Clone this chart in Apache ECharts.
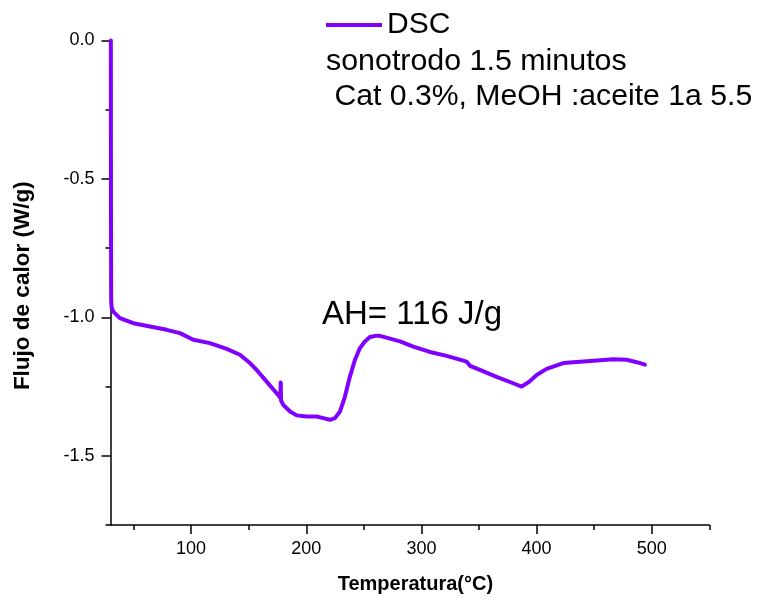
<!DOCTYPE html>
<html>
<head>
<meta charset="utf-8">
<script src="https://cdn.jsdelivr.net/npm/echarts@6/dist/echarts.min.js"></script>
<style>
  html, body { margin: 0; padding: 0; background: #fff; }
  #chart { width: 757px; height: 598px; }
</style>
</head>
<body>
<div id="chart"></div>
<script>
// DSC thermogram: temperature (°C) and heat flow (W/g)
const temperature = [30.3, 30.4, 30.6, 31.0, 32.4, 38.2, 49.8, 64.3, 78.8, 90.3,
  101.9, 116.3, 130.9, 142.4, 151.1, 156.9, 165.6, 174.3, 177.5, 177.8,
  178.1, 180.0, 185.9, 191.7, 200.4, 209.0, 214.8, 220.6, 224.9, 229.3,
  233.6, 237.9, 242.3, 246.6, 250.9, 255.3, 261.1, 264.0, 281.4, 292.9,
  307.4, 321.9, 339.3, 342.2, 350.8, 365.3, 379.7, 387.0, 392.8, 400.1,
  408.7, 423.2, 437.7, 452.2, 466.6, 478.2, 486.9, 494.1];
const heatFlow = [0.0, -0.60, -0.94, -0.965, -0.979, -1.003, -1.021, -1.033, -1.045, -1.057,
  -1.081, -1.093, -1.114, -1.135, -1.165, -1.190, -1.232, -1.274, -1.290, -1.235,
  -1.300, -1.316, -1.340, -1.354, -1.358, -1.358, -1.364, -1.370, -1.364, -1.340,
  -1.286, -1.214, -1.153, -1.111, -1.087, -1.071, -1.066, -1.067, -1.087, -1.106,
  -1.125, -1.139, -1.160, -1.175, -1.190, -1.215, -1.238, -1.250, -1.235, -1.208,
  -1.186, -1.165, -1.160, -1.156, -1.151, -1.153, -1.162, -1.171];

const xMajorTicks = [100, 200, 300, 400, 500];
const xMinorTicks = [50, 150, 250, 350, 450, 550];
const yMajorTicks = [0, -0.5, -1.0, -1.5];
const yMinorTicks = [-0.25, -0.75, -1.25, -1.75];

const seriesName = 'DSC';
const noteLines = ['sonotrodo 1.5 minutos', ' Cat 0.3%, MeOH :aceite 1a 5.5'];
const enthalpyNote = 'AH= 116 J/g';
const xTitle = 'Temperatura(°C)';
const yTitle = 'Flujo de calor (W/g)';

const FONT = '"Liberation Sans", Arial, sans-serif';
const INK = '#000';
const CURVE = '#8000ff';

const points = temperature.map((t, i) => [t, heatFlow[i]]);

const chart = echarts.init(document.getElementById('chart'), null, { renderer: 'canvas' });

// Two identical plot boxes: the first carries the data, labelled axes and major
// ticks; the second only draws the shorter minor ticks.
const plotBox = { left: 110.5, right: 47.7, top: 40.5, bottom: 73, containLabel: false, outerBoundsMode: 'none' };
const axisLine = { show: true, onZero: false, lineStyle: { color: INK, width: 1.5 } };
const hiddenLine = { show: false, onZero: false };
const tickLine = { color: INK, width: 1.5 };

chart.setOption({
  animation: false,
  backgroundColor: '#fff',
  grid: [Object.assign({}, plotBox), Object.assign({}, plotBox)],
  legend: {
    data: [seriesName],
    left: 326, top: 10, padding: 0,
    icon: 'rect', itemWidth: 56, itemHeight: 4,
    textStyle: { fontSize: 30, color: INK, fontFamily: FONT }
  },
  xAxis: [
    {
      gridIndex: 0, type: 'value', min: 30, max: 550, position: 'bottom',
      axisLine: axisLine,
      axisTick: { show: true, length: 9, customValues: xMajorTicks, lineStyle: tickLine },
      axisLabel: { customValues: xMajorTicks, margin: 15, fontSize: 18, color: INK, fontFamily: FONT },
      splitLine: { show: false },
      name: xTitle, nameLocation: 'middle', nameGap: 49,
      nameTextStyle: { fontSize: 20, fontWeight: 'bold', color: INK, fontFamily: FONT, padding: [0, 0, 0, 11] }
    },
    {
      gridIndex: 1, type: 'value', min: 30, max: 550, position: 'bottom',
      axisLine: hiddenLine,
      axisTick: { show: true, length: 5, customValues: xMinorTicks, lineStyle: tickLine },
      axisLabel: { show: false },
      splitLine: { show: false }
    }
  ],
  yAxis: [
    {
      gridIndex: 0, type: 'value', min: -1.75, max: 0, position: 'left',
      axisLine: axisLine,
      axisTick: { show: true, length: 9, customValues: yMajorTicks, lineStyle: tickLine },
      axisLabel: {
        customValues: yMajorTicks, margin: 16, fontSize: 18, color: INK, fontFamily: FONT,
        formatter: v => v.toFixed(1)
      },
      splitLine: { show: false },
      name: yTitle, nameLocation: 'middle', nameGap: 76, nameRotate: 90,
      nameTextStyle: { fontSize: 22.5, fontWeight: 'bold', color: INK, fontFamily: FONT, padding: [0, 6, 0, 0] }
    },
    {
      gridIndex: 1, type: 'value', min: -1.75, max: 0, position: 'left',
      axisLine: hiddenLine,
      axisTick: { show: true, length: 5, customValues: yMinorTicks, lineStyle: tickLine },
      axisLabel: { show: false },
      splitLine: { show: false }
    }
  ],
  series: [{
    name: seriesName,
    type: 'line',
    xAxisIndex: 0, yAxisIndex: 0,
    data: points,
    showSymbol: false,
    smooth: false,
    clip: false,
    color: CURVE,
    lineStyle: { color: CURVE, width: 4, cap: 'round', join: 'round' }
  }],
  graphic: [
    { type: 'text', x: 326, y: 62,
      style: { text: noteLines[0], fontSize: 30.4, fontFamily: FONT, fill: INK, verticalAlign: 'middle' } },
    { type: 'text', x: 326, y: 97,
      style: { text: noteLines[1], fontSize: 30.2, fontFamily: FONT, fill: INK, verticalAlign: 'middle' } },
    { type: 'text', x: 322, y: 315,
      style: { text: enthalpyNote, fontSize: 33, fontFamily: FONT, fill: INK, verticalAlign: 'middle' } }
  ]
});
</script>
</body>
</html>
